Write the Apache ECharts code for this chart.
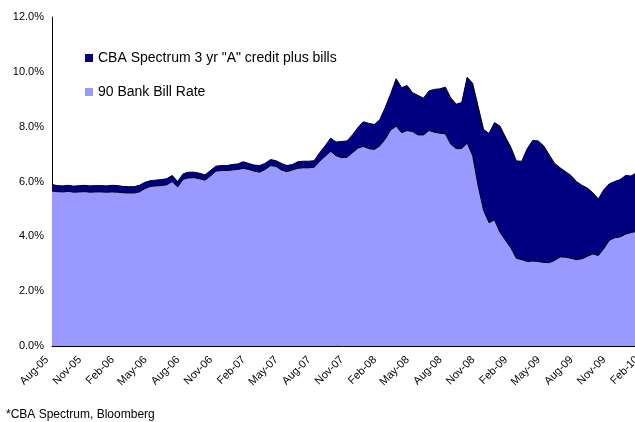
<!DOCTYPE html>
<html>
<head>
<meta charset="utf-8">
<script src="https://cdn.jsdelivr.net/npm/echarts@6/dist/echarts.min.js"></script>
<style>
html,body{margin:0;padding:0;background:#fff;}
#chart{width:635px;height:422px;}
</style>
</head>
<body>
<div id="chart"></div>
<script>
// Semi-monthly observations, starting Aug-05
const startMonth = 7, startYear = 2005, periods = 109;
const monthNames = ['Jan','Feb','Mar','Apr','May','Jun','Jul','Aug','Sep','Oct','Nov','Dec'];

// CBA Spectrum 3 yr "A" credit plus bills (%)
const cbaSpectrum = [
  5.89,5.85,5.84,5.86,5.83,5.85,5.86,5.84,5.85,5.85,5.84,5.86,5.85,5.82,5.81,5.81,
  5.86,5.97,6.03,6.05,6.07,6.10,6.22,6.00,6.28,6.34,6.34,6.30,6.24,6.40,6.56,6.58,
  6.58,6.62,6.64,6.72,6.66,6.60,6.58,6.66,6.80,6.76,6.66,6.58,6.62,6.72,6.74,6.74,
  6.76,7.05,7.30,7.58,7.44,7.46,7.48,7.70,7.97,8.18,8.12,8.08,8.25,8.70,9.20,9.75,
  9.42,9.50,9.24,9.14,9.04,9.30,9.36,9.38,9.44,9.05,8.82,8.88,9.80,9.58,8.74,7.90,
  7.75,8.15,8.02,7.62,7.25,6.75,6.74,7.20,7.50,7.48,7.30,6.98,6.66,6.50,6.36,6.22,
  6.00,5.86,5.76,5.59,5.36,5.70,5.91,6.00,6.07,6.22,6.20,6.32
];

// 90 Bank Bill Rate (%)
const bankBill = [
  5.65,5.63,5.62,5.64,5.61,5.62,5.63,5.61,5.62,5.62,5.61,5.62,5.61,5.59,5.58,5.58,
  5.62,5.74,5.82,5.84,5.85,5.88,6.00,5.80,6.08,6.13,6.14,6.10,6.05,6.20,6.38,6.40,
  6.40,6.42,6.44,6.48,6.44,6.38,6.34,6.44,6.58,6.55,6.42,6.36,6.42,6.48,6.50,6.50,
  6.52,6.74,6.92,7.10,6.94,6.87,6.88,7.05,7.22,7.28,7.20,7.17,7.30,7.55,7.88,8.02,
  7.78,7.86,7.82,7.70,7.70,7.86,7.80,7.76,7.74,7.36,7.20,7.20,7.40,6.95,5.85,4.95,
  4.50,4.60,4.15,3.86,3.58,3.20,3.15,3.08,3.10,3.08,3.05,3.04,3.12,3.25,3.24,3.20,
  3.15,3.18,3.27,3.36,3.30,3.55,3.85,3.95,3.98,4.08,4.14,4.18
];

const seriesNames = ['CBA Spectrum 3 yr "A" credit plus bills', '90 Bank Bill Rate'];
const yTicks = [0, 2, 4, 6, 8, 10, 12];

const categories = [];
for (let i = 0; i < periods; i++) {
  const m = startMonth + Math.floor(i / 2);
  const y = startYear + Math.floor(m / 12);
  const label = monthNames[m % 12] + '-' + String(y).slice(2);
  categories.push(i % 2 === 0 ? label : label + ' mid');
}

const font = 'Liberation Sans, Arial, sans-serif';
const chart = echarts.init(document.getElementById('chart'), null, {renderer: 'canvas'});
chart.setOption({
  animation: false,
  backgroundColor: '#ffffff',
  title: {
    text: '*CBA Spectrum, Bloomberg',
    left: 1, top: 404,
    textStyle: {fontFamily: font, fontSize: 12, fontWeight: 'normal', color: '#000'}
  },
  legend: {
    data: seriesNames,
    orient: 'vertical',
    left: 80, top: 46,
    icon: 'rect',
    itemWidth: 8, itemHeight: 8,
    itemGap: 20,
    textStyle: {fontFamily: font, fontSize: 14, color: '#000'}
  },
  grid: {left: 52, top: 17, height: 329, width: 590, containLabel: false, outerBoundsMode: 'none'},
  xAxis: {
    type: 'category',
    data: categories,
    boundaryGap: false,
    axisLine: {lineStyle: {color: '#000', width: 1}},
    axisTick: {show: false},
    splitLine: {show: false},
    axisLabel: {
      interval: 5,
      rotate: 45,
      margin: 7,
      padding: [0, 7, 0, 0],
      fontFamily: font, fontSize: 11, color: '#000',
      formatter: v => v.replace(' mid', '')
    }
  },
  yAxis: {
    type: 'value',
    min: yTicks[0], max: yTicks[yTicks.length - 1], interval: 2,
    axisLine: {show: true, lineStyle: {color: '#000', width: 1}},
    axisTick: {show: false},
    splitLine: {show: false},
    axisLabel: {
      margin: 8,
      fontFamily: font, fontSize: 11, color: '#000',
      formatter: v => v.toFixed(1) + '%'
    }
  },
  series: [
    {
      name: seriesNames[0],
      type: 'line',
      data: cbaSpectrum,
      showSymbol: false,
      symbol: 'none',
      color: '#000080',
      itemStyle: {color: '#000080'},
      lineStyle: {color: '#000', width: 1},
      areaStyle: {color: '#000080', opacity: 1}
    },
    {
      name: seriesNames[1],
      type: 'line',
      data: bankBill,
      showSymbol: false,
      symbol: 'none',
      color: '#9999ff',
      itemStyle: {color: '#9999ff'},
      lineStyle: {color: '#000', width: 1},
      areaStyle: {color: '#9999ff', opacity: 1}
    }
  ]
});
</script>
</body>
</html>
